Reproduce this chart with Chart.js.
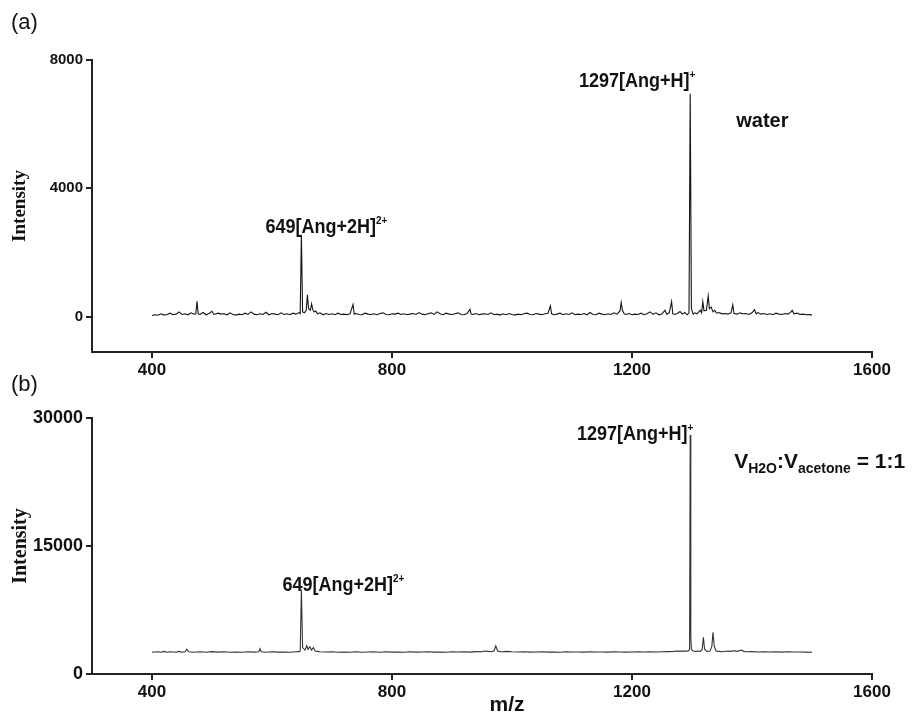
<!DOCTYPE html>
<html>
<head>
<meta charset="utf-8">
<script src="https://cdn.jsdelivr.net/npm/chart.js@4.4.1/dist/chart.umd.min.js"></script>
<style>
html, body { margin: 0; padding: 0; background: #fff; }
#wrap { position: relative; width: 912px; height: 714px; overflow: hidden; }
.box { position: absolute; left: 0; width: 912px; }
.tag { position: absolute; left: 11px; font: 22px "Liberation Sans", Arial, sans-serif; color: #111; }
</style>
</head>
<body>
<div id="wrap">
  <div class="box" style="top:0;height:380px"><canvas id="chartA"></canvas></div>
  <div class="box" style="top:380px;height:334px"><canvas id="chartB"></canvas></div>
  <div class="tag" style="top:9px">(a)</div>
  <div class="tag" style="top:371px">(b)</div>
</div>
<script>
// (a) water
const mzA = [400,405,410,415,420,425,430,435,440,445,450,455,460,465,470,473,475,477,480,485,490,495,500,503,510,515,520,525,530,535,540,545,550,555,560,565,570,575,580,585,590,595,600,605,610,615,620,625,630,635,640,645,647,649,651,654,657,659,661,664,666,668,670,673,676,680,685,690,695,700,705,710,715,720,725,730,735,737,740,745,750,755,760,765,770,775,780,785,790,795,800,805,810,815,820,825,830,835,840,845,850,855,860,865,870,875,880,885,890,895,900,905,910,915,920,925,930,932,935,940,945,950,955,960,965,970,975,980,985,990,995,1000,1005,1010,1015,1020,1025,1030,1035,1040,1045,1050,1055,1060,1064,1066,1070,1075,1080,1085,1090,1095,1100,1105,1110,1115,1120,1125,1130,1135,1140,1145,1150,1155,1160,1165,1170,1175,1180,1182,1184,1187,1190,1195,1200,1205,1210,1215,1220,1225,1230,1235,1240,1245,1250,1255,1258,1262,1266,1268,1272,1276,1280,1284,1288,1292,1295,1297,1299,1302,1305,1308,1311,1314,1316,1318,1320,1324,1327,1329,1332,1335,1338,1341,1345,1350,1355,1360,1365,1368,1370,1375,1380,1385,1390,1395,1400,1404,1407,1410,1415,1420,1425,1430,1435,1440,1445,1450,1455,1460,1465,1467,1470,1475,1480,1485,1490,1495,1500];
const intA = [40,60,45,90,50,70,110,60,80,150,70,90,60,120,80,90,480,90,70,130,60,100,170,70,110,80,90,60,120,70,50,80,60,110,70,150,80,60,90,70,140,60,100,80,60,120,70,90,60,110,80,130,100,2550,150,120,200,680,250,200,400,220,150,180,90,120,60,100,70,90,60,110,70,80,60,90,380,80,100,70,60,110,80,70,90,60,100,120,70,60,90,80,110,70,90,60,80,100,70,130,80,60,90,120,70,150,90,60,110,80,70,90,120,70,60,100,230,80,70,100,60,80,90,70,120,60,80,50,90,60,100,70,50,80,60,90,110,70,60,100,80,60,90,110,340,90,60,80,110,60,90,70,120,60,80,70,100,60,130,70,60,110,80,60,90,70,120,80,180,440,200,90,70,100,60,80,70,110,60,90,150,70,120,60,90,200,80,120,470,90,70,110,160,80,130,60,120,6950,250,80,120,90,140,200,120,470,180,200,650,250,300,150,200,110,130,90,100,80,120,370,100,80,120,90,100,70,120,220,90,130,80,100,70,90,60,110,80,70,100,80,150,200,90,110,70,80,60,70,50];

// (b) water : acetone = 1:1
const mzB = [400,410,415,420,425,430,440,445,450,455,458,461,470,480,490,500,510,520,530,540,550,560,570,578,580,582,590,600,610,620,630,640,645,647,649,651,655,658,660,663,666,669,672,676,680,690,700,710,720,730,740,750,760,770,780,790,800,810,820,830,840,850,860,870,880,890,900,910,920,930,940,950,955,960,965,970,973,976,980,985,990,1000,1010,1020,1030,1040,1050,1060,1070,1080,1090,1100,1110,1120,1130,1140,1150,1160,1170,1180,1190,1200,1210,1220,1230,1240,1250,1260,1270,1275,1280,1285,1290,1294,1296,1297,1298,1299,1300,1302,1306,1310,1314,1317,1319,1321,1325,1330,1333,1335,1337,1340,1345,1350,1360,1365,1370,1375,1380,1383,1386,1390,1400,1410,1420,1430,1440,1450,1460,1470,1480,1490,1500];
const intB = [2550,2600,2550,2650,2550,2600,2550,2650,2550,2600,2900,2600,2550,2600,2550,2620,2560,2600,2550,2580,2550,2600,2560,2600,2950,2600,2550,2600,2560,2580,2550,2600,2620,2700,9900,3100,2800,3300,2900,3200,2800,3100,2700,2650,2600,2570,2600,2550,2580,2550,2600,2550,2570,2600,2550,2600,2560,2580,2550,2600,2560,2580,2600,2560,2580,2550,2600,2570,2600,2560,2620,2600,2700,2650,2600,2700,3300,2700,2620,2600,2650,2600,2580,2600,2560,2580,2600,2560,2580,2550,2600,2570,2580,2560,2600,2570,2580,2560,2600,2580,2560,2580,2600,2570,2600,2580,2600,2620,2650,2700,2650,2700,2680,2700,2900,28000,4300,3000,2800,2700,2650,2700,2650,2900,4300,2900,2650,2700,3200,4900,3300,2700,2650,2600,2700,2650,2720,2650,2750,2800,2650,2600,2620,2580,2600,2570,2600,2560,2600,2570,2580,2560,2550];

const xTicks = [400, 800, 1200, 1600];
const yTicksA = [0, 4000, 8000];
const yTicksB = [0, 15000, 30000];

const SANS = '"Liberation Sans", Arial, sans-serif';
const SERIF = '"Liberation Serif", "Times New Roman", serif';
const INK = '#111';

function lbl(t) { return { t: t, font: 'bold 20px ' + SANS, dy: 0 }; }
function sup(t) { return { t: t, font: 'bold 11px ' + SANS, dy: -9 }; }
function sub(t, size) { return { t: t, font: 'bold ' + size + 'px ' + SANS, dy: 5 }; }

function drawRich(ctx, x, y, parts, sx, align) {
  ctx.save();
  let w = 0;
  parts.forEach(p => { ctx.font = p.font; w += ctx.measureText(p.t).width; });
  ctx.translate(align === 'right' ? x - w * sx : x, y);
  ctx.scale(sx, 1);
  ctx.fillStyle = INK;
  ctx.textBaseline = 'alphabetic';
  ctx.textAlign = 'left';
  let cx = 0;
  parts.forEach(p => {
    ctx.font = p.font;
    ctx.fillText(p.t, cx, p.dy);
    cx += ctx.measureText(p.t).width;
  });
  ctx.restore();
}

// labels anchored on the peaks through the scales
const peakText = {
  id: 'peakText',
  afterDraw(chart, args, opts) {
    const ctx = chart.ctx, xs = chart.scales.x, ys = chart.scales.y;
    (opts.items || []).forEach(it => {
      const px = xs.getPixelForValue(it.mz) + it.dx;
      const py = ys.getPixelForValue(it.val) + it.dy;
      drawRich(ctx, px, py, it.parts, it.sx || 1, it.align);
    });
    if (opts.xTitle) {
      const a = chart.chartArea;
      ctx.save();
      ctx.font = 'bold 21px ' + SANS;
      ctx.fillStyle = INK;
      ctx.textAlign = 'center';
      ctx.fillText(opts.xTitle, (a.left + a.right) / 2 + 25, chart.height - 3);
      ctx.restore();
    }
  }
};

function makeChart(id, mz, inten, o) {
  const pts = mz.map((m, i) => ({ x: m, y: inten[i] }));
  return new Chart(document.getElementById(id), {
    type: 'line',
    data: { datasets: [{ data: pts, borderColor: o.line, borderWidth: 1.1, pointRadius: 0, tension: 0, fill: false }] },
    options: {
      responsive: true,
      maintainAspectRatio: false,
      animation: false,
      events: [],
      layout: { padding: { left: 0, right: 40, top: o.top, bottom: 0 } },
      plugins: { legend: { display: false }, tooltip: { enabled: false }, peakText: { items: o.items, xTitle: o.xTitle } },
      scales: {
        x: {
          type: 'linear', min: 300, max: 1600,
          afterBuildTicks: s => { s.ticks = xTicks.map(v => ({ value: v })); },
          afterFit: s => { s.height = o.xh; },
          grid: { display: true, drawOnChartArea: false, drawTicks: true, tickLength: 6, color: '#222', lineWidth: 2 },
          border: { display: true, color: '#222', width: 2 },
          ticks: { color: INK, font: { family: SANS, size: 17, weight: 'bold' }, padding: 2, maxRotation: 0, autoSkip: false, callback: v => String(v) }
        },
        y: {
          min: o.ymin, max: o.ymax,
          afterBuildTicks: s => { s.ticks = o.yTicks.map(v => ({ value: v })); },
          afterFit: s => { s.width = 92; },
          grid: { display: true, drawOnChartArea: false, drawTicks: true, tickLength: 6, color: '#222', lineWidth: 2 },
          border: { display: true, color: '#222', width: 2 },
          ticks: { color: INK, font: { family: SANS, size: o.yfs, weight: 'bold' }, padding: 3, callback: v => String(v) },
          title: { display: true, text: 'Intensity', color: INK, font: { family: SERIF, size: o.tfs, weight: 'bold' }, padding: { top: 9, bottom: 0 } }
        }
      }
    },
    plugins: [peakText]
  });
}

makeChart('chartA', mzA, intA, {
  line: '#151515', top: 60, xh: 28, ymin: -1100, ymax: 8000, yTicks: yTicksA, yfs: 15, tfs: 19,
  items: [
    { mz: 1297, val: 6950, dx: 5, dy: -7, align: 'right', sx: 0.9, parts: [lbl('1297[Ang+H]'), sup('+')] },
    { mz: 649, val: 2550, dx: -36, dy: -2, sx: 0.9, parts: [lbl('649[Ang+2H]'), sup('2+')] },
    { mz: 1297, val: 6950, dx: 46, dy: 33, parts: [lbl('water')] }
  ]
});

makeChart('chartB', mzB, intB, {
  line: '#333', top: 38, xh: 40, ymin: 0, ymax: 30000, yTicks: yTicksB, yfs: 18, tfs: 20, xTitle: 'm/z',
  items: [
    { mz: 1297, val: 28000, dx: 3, dy: 5, align: 'right', sx: 0.9, parts: [lbl('1297[Ang+H]'), sup('+')] },
    { mz: 649, val: 9900, dx: -19, dy: 1, sx: 0.9, parts: [lbl('649[Ang+2H]'), sup('2+')] },
    { mz: 1297, val: 28000, dx: 44, dy: 33, parts: [
      { t: 'V', font: 'bold 21px ' + SANS, dy: 0 }, sub('H2O', 14),
      { t: ':V', font: 'bold 21px ' + SANS, dy: 0 }, sub('acetone', 14),
      { t: ' = 1:1', font: 'bold 21px ' + SANS, dy: 0 }
    ] }
  ]
});
</script>
</body>
</html>
